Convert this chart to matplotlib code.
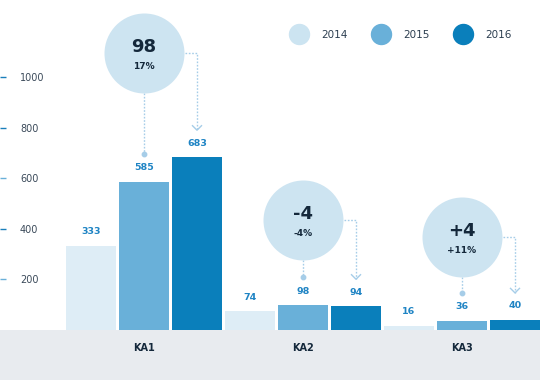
import matplotlib.pyplot as plt
from matplotlib.lines import Line2D

years = ["2014", "2015", "2016"]
groups = ["KA1", "KA2", "KA3"]
v2014 = [333, 74, 16]
v2015 = [585, 98, 36]
v2016 = [683, 94, 40]
diffs = ["98", "-4", "+4"]
pcts = ["17%", "-4%", "+11%"]
yticks = [200, 400, 600, 800, 1000]

bar_cols = ["#deedf6", "#69b0d9", "#0a7fbb"]
leg_cols = ["#cce4f1", "#69b0d9", "#0a7fbb"]
bubble_col = "#cde4f1"
dot_col = "#a6cde8"
lbl_col = "#1f84c4"
dark = "#14283b"

# pixel helpers (figure is 540x380 px, baseline at 50 px from bottom)
KY = 0.253          # px per value unit
KX = 53.0           # px per bar slot
px_y = lambda p: p / KY
px_x = lambda p: p / KX

fig = plt.figure(figsize=(5.4, 3.8), dpi=100, facecolor="#e8ebef")
ax = fig.add_axes([0, 50 / 380, 1, 330 / 380])
ax.set_facecolor("white")
ax.set_xlim(-91 / KX, (540 - 91) / KX)
ax.set_ylim(0, 330 / KY)
for s in ax.spines.values():
    s.set_visible(False)

for j, vals in enumerate([v2014, v2015, v2016]):
    xs = [3 * g + j for g in range(3)]
    ax.bar(xs, vals, width=50 / KX, color=bar_cols[j], zorder=2)
    for x, v in zip(xs, vals):
        ax.annotate(str(v), (x, v), xytext=(0, 14 * 0.72), textcoords="offset points",
                    ha="center", va="center", fontsize=6.8, fontweight="bold",
                    color=lbl_col)

# y ticks
ax.set_yticks(yticks)
ax.set_yticklabels([str(t) for t in yticks])
ax.tick_params(axis="y", direction="in", length=4, width=1, pad=-14.4,
               labelsize=7, labelcolor="#3b4a5a")
for lab in ax.get_yticklabels():
    lab.set_horizontalalignment("left")
for t, tick in zip(yticks, ax.yaxis.get_major_ticks()):
    c = "#6ab0d9" if t in (200, 600) else "#1a7fbb"
    tick.tick1line.set_markeredgecolor(c)
    tick.tick1line.set_color(c)

# category labels
ax.set_xticks([3 * g + 1 for g in range(3)])
ax.set_xticklabels(groups, fontsize=7, fontweight="bold", color=dark)
ax.tick_params(axis="x", length=0, pad=9.5)

# bubbles
bub_y = [1095, 435, 368]
R = 40
for g in range(3):
    cx = 3 * g + 1
    cy = bub_y[g]
    ax.scatter([cx], [cy], s=(2 * R * 0.72) ** 2, color=bubble_col, zorder=3, linewidths=0)
    ax.text(cx, cy + px_y(6), diffs[g], ha="center", va="center", fontsize=13,
            fontweight="bold", color=dark, zorder=4)
    ax.text(cx, cy - px_y(14), pcts[g], ha="center", va="center", fontsize=6.5,
            fontweight="bold", color=dark, zorder=4)
    # line down to 2015 bar
    dot_y = v2015[g] + px_y(28)
    ax.plot([cx, cx], [cy - px_y(R), dot_y], ls=(0, (1.2, 1.2)), lw=1, color=dot_col, zorder=2)
    ax.plot([cx], [dot_y], "o", ms=3.2, color=dot_col, zorder=2)
    # connector to 2016 bar
    ax2 = cx + 1
    tip = v2016[g] + px_y(27)
    ax.plot([cx + px_x(R + 1), ax2, ax2], [cy, cy, tip], ls=(0, (1.2, 1.2)), lw=1,
            color=dot_col, zorder=2)
    ax.plot([ax2 - px_x(4.5), ax2, ax2 + px_x(4.5)], [tip + px_y(4.5), tip, tip + px_y(4.5)],
            lw=1, color=dot_col, zorder=2)

# legend
handles = [Line2D([], [], ls="", marker="o", ms=14.4, mfc=c, mec=c) for c in leg_cols]
leg = ax.legend(handles, years, ncol=3, frameon=False, loc="center left",
                bbox_to_anchor=(293 / 540, 1 - 35 / 330), fontsize=7.5,
                handlelength=1.2, handletextpad=1.5, columnspacing=2.65,
                borderpad=0, borderaxespad=0)
for t in leg.get_texts():
    t.set_color("#2c3e50")

fig.savefig("out.png", dpi=100)
